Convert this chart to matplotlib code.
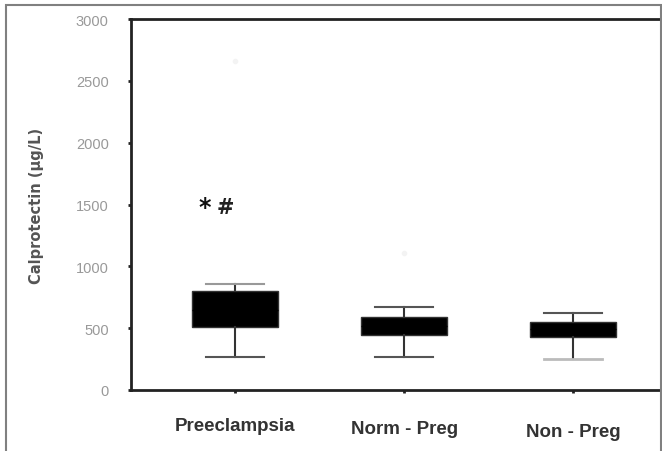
import matplotlib.pyplot as plt
from matplotlib.patches import Rectangle

# Group names and box summary values (ug/L)
groups = ["Preeclampsia", "Norm - Preg", "Non - Preg"]
whisker_low = [268, 268, 251]
q1 = [511, 446, 430]
median = [650, 520, 490]
q3 = [803, 592, 551]
whisker_high = [860, 673, 624]
outliers = [[2660], [1110], []]

yticks = [0, 500, 1000, 1500, 2000, 2500, 3000]

W, H = 662, 452
fig = plt.figure(figsize=(W / 100, H / 100), dpi=100)

# outer frame around the figure
fig.patches.append(Rectangle((6 / W, -0.05), (655 / W), 1.05 - 6 / H,
                             transform=fig.transFigure, fill=False,
                             edgecolor="#808080", linewidth=1.5))

left, right = 131, 700
bottom, top = 391, 20
ax = fig.add_axes([left / W, 1 - bottom / H, (right - left) / W, (bottom - top) / H])

stats = []
for i, g in enumerate(groups):
    stats.append({"label": g, "whislo": whisker_low[i], "q1": q1[i], "med": median[i],
                  "q3": q3[i], "whishi": whisker_high[i], "fliers": outliers[i]})

pos = [1, 2, 3]
bp = ax.bxp(stats, positions=pos, widths=0.51, capwidths=0.34, patch_artist=True,
            boxprops=dict(facecolor="black", edgecolor="#333333", linewidth=1),
            medianprops=dict(color="black", linewidth=1),
            whiskerprops=dict(color="#333333", linewidth=1.5),
            capprops=dict(color="#555555", linewidth=1.5),
            flierprops=dict(marker="o", markersize=3, markerfacecolor="#f3f3f3",
                            markeredgecolor="#f3f3f3"))
# faint lower cap on last group
bp["caps"][4].set_color("#bbbbbb")
bp["caps"][4].set_linewidth(2)
bp["caps"][1].set_color("#999999")

ax.text(0.82, 1480, "*", fontsize=17, fontweight="bold", color="#111111",
        ha="center", va="center")
ax.text(0.94, 1480, "#", fontsize=15, fontweight="bold", color="#222222",
        ha="center", va="center")

ax.set_xlim(0.385, 3.75)
ax.set_ylim(0, 3000)
ax.set_yticks(yticks)
ax.set_yticklabels([str(v) for v in yticks], fontsize=10.5, color="#999999",
                   family="Liberation Sans")
ax.set_xticks(pos)
ax.set_xticklabels([])
# group labels sit at slightly different heights in the original
for p, g, yy in zip(pos, groups, [-0.097, -0.105, -0.113]):
    ax.text(p, yy, g, transform=ax.get_xaxis_transform(), ha="center", va="center",
            fontsize=13.5, fontweight="bold", color="#333333", family="Liberation Sans")
ax.tick_params(axis="y", length=2, width=2, pad=14, color="#222222")
ax.tick_params(axis="x", length=2, width=2, color="#222222")

for s in ["top", "bottom", "left"]:
    ax.spines[s].set_linewidth(2)
    ax.spines[s].set_color("#222222")
ax.spines["right"].set_visible(False)

ax.set_ylabel("Calprotectin (\u00b5g/L)", fontsize=10.5, fontweight="bold",
              color="#555555", labelpad=23)

fig.savefig("out.png", dpi=100)
